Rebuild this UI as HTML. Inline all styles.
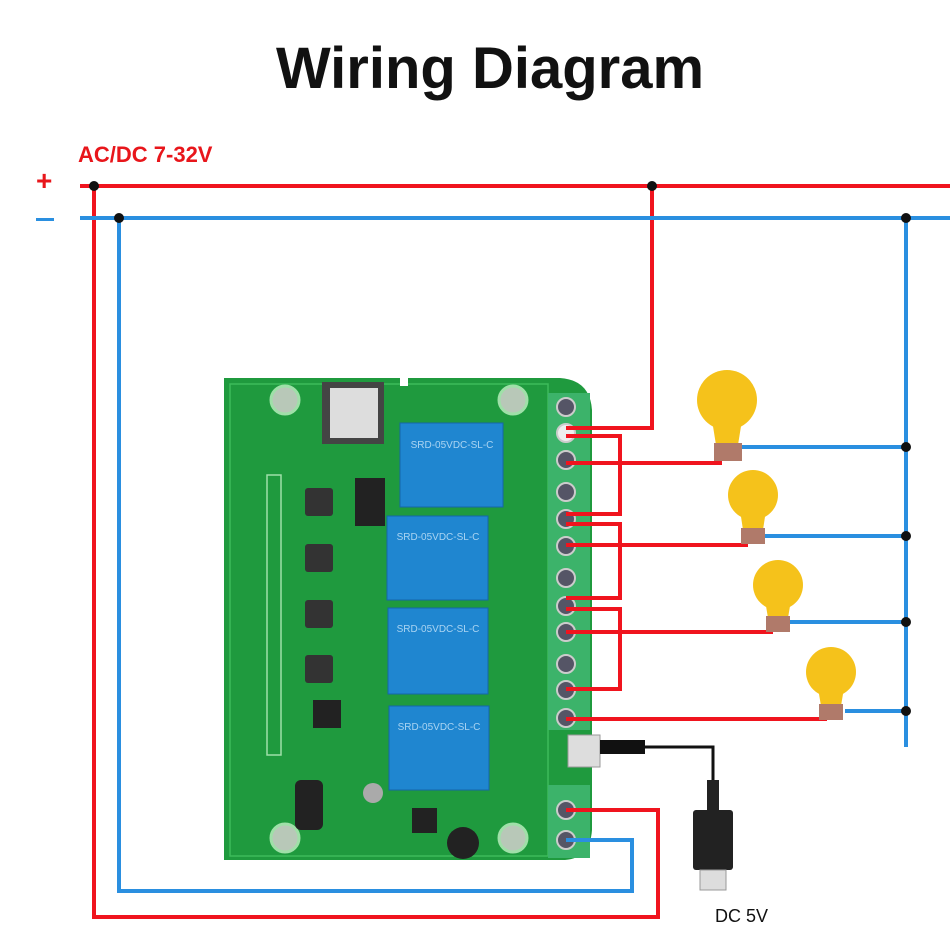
<!DOCTYPE html>
<html><head><meta charset="utf-8"><style>
html,body{margin:0;padding:0;background:#fff}
svg{display:block}
</style></head><body>
<svg width="950" height="950" viewBox="0 0 950 950" xmlns="http://www.w3.org/2000/svg" font-family="Liberation Sans, sans-serif">
<rect width="950" height="950" fill="#fff"/>
<text x="490" y="88" text-anchor="middle" font-size="58" font-weight="bold" fill="#111">Wiring Diagram</text>
<text x="78" y="162" font-size="22" font-weight="bold" fill="#e8161b">AC/DC 7-32V</text>
<text x="36" y="190" font-size="28" font-weight="bold" fill="#e8161b">+</text>
<rect x="36" y="218" width="18" height="3" fill="#2a8fe0"/>

<!-- board -->
<path d="M224 378 L560 378 Q590 380 592 410 L592 830 Q590 858 565 860 L224 860 Z" fill="#1f9a3e"/>
<rect x="230" y="384" width="318" height="472" fill="none" stroke="#3dbb5a" stroke-width="1.5"/>
<rect x="400" y="378" width="8" height="8" fill="#fff"/>
<circle cx="285" cy="400" r="14" fill="#b8c8b8" stroke="#9fe0a8" stroke-width="3"/>
<circle cx="513" cy="400" r="14" fill="#b8c8b8" stroke="#9fe0a8" stroke-width="3"/>
<circle cx="285" cy="838" r="14" fill="#b8c8b8" stroke="#9fe0a8" stroke-width="3"/>
<circle cx="513" cy="838" r="14" fill="#b8c8b8" stroke="#9fe0a8" stroke-width="3"/>
<rect x="322" y="382" width="62" height="62" fill="#444"/>
<rect x="330" y="388" width="48" height="50" fill="#ddd"/>
<rect x="355" y="478" width="30" height="48" fill="#222"/>
<rect x="305" y="488" width="28" height="28" fill="#333" rx="3"/>
<rect x="305" y="544" width="28" height="28" fill="#333" rx="3"/>
<rect x="305" y="600" width="28" height="28" fill="#333" rx="3"/>
<rect x="305" y="655" width="28" height="28" fill="#333" rx="3"/>
<rect x="267" y="475" width="14" height="280" fill="none" stroke="#9fe0a8" stroke-width="1.5"/>
<rect x="295" y="780" width="28" height="50" fill="#222" rx="6"/>
<rect x="313" y="700" width="28" height="28" fill="#222"/>
<circle cx="373" cy="793" r="10" fill="#aaa"/>
<circle cx="463" cy="843" r="16" fill="#222"/>
<rect x="412" y="808" width="25" height="25" fill="#222"/>
<!-- relays -->
<g fill="#1f86d0" stroke="#1565a8">
<rect x="400" y="423" width="103" height="84"/>
<rect x="387" y="516" width="101" height="84"/>
<rect x="388" y="608" width="100" height="86"/>
<rect x="389" y="706" width="100" height="84"/>
</g>
<g fill="#aad4f2" font-size="10" text-anchor="middle">
<text x="452" y="448">SRD-05VDC-SL-C</text>
<text x="438" y="540">SRD-05VDC-SL-C</text>
<text x="438" y="632">SRD-05VDC-SL-C</text>
<text x="439" y="730">SRD-05VDC-SL-C</text>
</g>
<!-- terminal block -->
<rect x="548" y="393" width="42" height="337" fill="#3cb36a"/>
<rect x="548" y="785" width="42" height="73" fill="#3cb36a"/>
<g fill="#556" stroke="#ccc" stroke-width="2">
<circle cx="566" cy="407" r="9"/><circle cx="566" cy="433" r="9" fill="#eee"/><circle cx="566" cy="460" r="9"/>
<circle cx="566" cy="492" r="9"/><circle cx="566" cy="519" r="9"/><circle cx="566" cy="546" r="9"/>
<circle cx="566" cy="578" r="9"/><circle cx="566" cy="606" r="9"/><circle cx="566" cy="632" r="9"/>
<circle cx="566" cy="664" r="9"/><circle cx="566" cy="690" r="9"/><circle cx="566" cy="718" r="9"/>
<circle cx="566" cy="810" r="9"/><circle cx="566" cy="840" r="9"/>
</g>
<rect x="568" y="735" width="32" height="32" fill="#ddd" stroke="#999"/>
<!-- usb cable -->
<rect x="600" y="740" width="45" height="14" fill="#111"/>
<polyline points="645,747 713,747 713,800" fill="none" stroke="#111" stroke-width="3"/>
<rect x="707" y="780" width="12" height="30" fill="#222"/>
<rect x="693" y="810" width="40" height="60" fill="#222" rx="3"/>
<rect x="700" y="870" width="26" height="20" fill="#ddd" stroke="#999"/>
<text x="715" y="922" font-size="18" fill="#111">DC 5V</text>

<!-- wires -->
<g fill="none" stroke="#f0141e" stroke-width="4">
<line x1="80" y1="186" x2="950" y2="186"/>
<polyline points="652,186 652,428 566,428"/>
<polyline points="566,436 620,436 620,514 566,514"/>
<polyline points="566,524 620,524 620,598 566,598"/>
<polyline points="566,609 620,609 620,689 566,689"/>
<polyline points="566,463 722,463"/>
<polyline points="566,545 748,545"/>
<polyline points="566,632 773,632"/>
<polyline points="566,719 827,719"/>
<polyline points="566,810 658,810 658,917 94,917 94,186"/>
</g>
<g fill="none" stroke="#2a8fe0" stroke-width="4">
<line x1="80" y1="218" x2="950" y2="218"/>
<line x1="906" y1="218" x2="906" y2="747"/>
<line x1="742" y1="447" x2="906" y2="447"/>
<line x1="765" y1="536" x2="906" y2="536"/>
<line x1="790" y1="622" x2="906" y2="622"/>
<line x1="845" y1="711" x2="906" y2="711"/>
<polyline points="566,840 632,840 632,891 119,891 119,218"/>
</g>
<g fill="#111">
<circle cx="94" cy="186" r="5"/><circle cx="652" cy="186" r="5"/><circle cx="119" cy="218" r="5"/>
<circle cx="906" cy="218" r="5"/><circle cx="906" cy="447" r="5"/><circle cx="906" cy="536" r="5"/>
<circle cx="906" cy="622" r="5"/><circle cx="906" cy="711" r="5"/>
</g>
<!-- bulbs -->
<g>
<circle cx="727" cy="400" r="30" fill="#f5c21b"/><path d="M712 420 L742 420 L738 445 L716 445Z" fill="#f5c21b"/><rect x="714" y="443" width="28" height="18" fill="#b07a6a"/>
<circle cx="753" cy="495" r="25" fill="#f5c21b"/><path d="M740 510 L766 510 L763 530 L743 530Z" fill="#f5c21b"/><rect x="741" y="528" width="24" height="16" fill="#b07a6a"/>
<circle cx="778" cy="585" r="25" fill="#f5c21b"/><path d="M765 600 L791 600 L788 618 L768 618Z" fill="#f5c21b"/><rect x="766" y="616" width="24" height="16" fill="#b07a6a"/>
<circle cx="831" cy="672" r="25" fill="#f5c21b"/><path d="M818 688 L844 688 L841 706 L821 706Z" fill="#f5c21b"/><rect x="819" y="704" width="24" height="16" fill="#b07a6a"/>
</g>
</svg>
</body></html>
